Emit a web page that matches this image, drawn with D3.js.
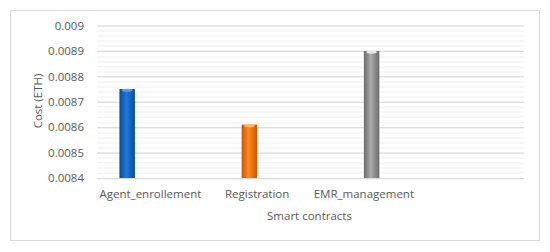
<!DOCTYPE html>
<html>
<head>
<meta charset="utf-8">
<script src="https://cdn.jsdelivr.net/npm/d3@7"></script>
<style>
  body { margin: 0; background: #fff; }
  svg { display: block; }
  svg text { font-family: "Open Sans", Lato, sans-serif; }
</style>
</head>
<body>
<svg width="550" height="252"></svg>
<script>
// Cost of each smart contract (one series per contract, Excel-style clustered layout)
const categories = ['Agent_enrollement', 'Registration', 'EMR_management', ''];
const seriesNames = ['Series1', 'Series2', 'Series3', 'Series4'];
const series1 = [0.00875, null, null, null];
const series2 = [null, 0.00861, null, null];
const series3 = [null, null, 0.0089, null];
const series4 = [null, null, null, null];
const yTicks = [0.0084, 0.0085, 0.0086, 0.0087, 0.0088, 0.0089, 0.009];

const allSeries = [series1, series2, series3, series4];

const svg = d3.select('svg');
const width = 550;
const height = 252;
const margin = { top: 25.5, right: 26, bottom: 74, left: 97 };
const innerWidth = width - margin.left - margin.right;
const innerHeight = height - margin.top - margin.bottom;
const textColor = '#595959';
const fontSize = '11.5px';

// outer frame
svg.append('rect')
    .attr('x', 10.5).attr('y', 10.5)
    .attr('width', 529).attr('height', 230)
    .attr('fill', '#fff')
    .attr('stroke', '#d9d9d9');

const g = svg.append('g')
    .attr('transform', `translate(${margin.left},${margin.top})`);

const x0 = d3.scaleBand()
    .domain(categories.map((d, i) => i))
    .range([0, innerWidth]);

const x1 = d3.scaleBand()
    .domain(seriesNames)
    .range([0, x0.bandwidth()])
    .paddingOuter(1.45);

const y = d3.scaleLinear()
    .domain([0.0084, 0.009])
    .range([innerHeight, 0]);

// minor gridlines
const minor = d3.range(0, 31).map(i => 0.0084 + i * 0.00002);
g.append('g').selectAll('line')
    .data(minor)
    .join('line')
    .attr('x1', 0).attr('x2', innerWidth)
    .attr('y1', d => Math.round(y(d)) + 0.5)
    .attr('y2', d => Math.round(y(d)) + 0.5)
    .attr('stroke', '#efefef');

// major gridlines + labels via axis
const yAxis = d3.axisLeft(y)
    .tickValues(yTicks)
    .tickSize(-innerWidth)
    .tickPadding(13)
    .tickFormat(d => String(+d.toFixed(4)));

g.append('g')
    .call(yAxis)
    .attr('font-family', null)
    .call(s => s.select('.domain').remove())
    .call(s => s.selectAll('.tick line').attr('stroke', '#d9d9d9'))
    .call(s => s.selectAll('.tick text')
        .attr('fill', textColor)
        .style('font-size', fontSize));

// gradients for the bars
const defs = svg.append('defs');
const palettes = [
    ['#0a4a9a', '#1f78dc', '#0a4a9a'],
    ['#cc5500', '#ff8a1e', '#cc5500'],
    ['#6b6b6b', '#ababab', '#6b6b6b'],
    ['#888', '#aaa', '#888']
];
palettes.forEach((p, i) => {
    const gr = defs.append('linearGradient')
        .attr('id', 'grad' + i)
        .attr('x1', 0).attr('x2', 1).attr('y1', 0).attr('y2', 0);
    gr.append('stop').attr('offset', '0%').attr('stop-color', p[0]);
    gr.append('stop').attr('offset', '45%').attr('stop-color', p[1]);
    gr.append('stop').attr('offset', '100%').attr('stop-color', p[2]);
});
const tops = ['#5aa0ee', '#ffb062', '#e8e8e8', '#ccc'];

// bars
const barData = [];
allSeries.forEach((s, si) => {
    s.forEach((v, ci) => {
        if (v != null) barData.push({ series: seriesNames[si], si, ci, value: v });
    });
});

const bars = g.append('g').selectAll('g')
    .data(barData)
    .join('g')
    .attr('transform', d => `translate(${x0(d.ci) + x1(d.series)},0)`);

bars.append('rect')
    .attr('y', d => y(d.value))
    .attr('width', x1.bandwidth())
    .attr('height', d => innerHeight - y(d.value))
    .attr('fill', d => `url(#grad${d.si})`);

bars.append('ellipse')
    .attr('cx', x1.bandwidth() / 2)
    .attr('cy', d => y(d.value) + 1.2)
    .attr('rx', x1.bandwidth() / 2 - 2.5)
    .attr('ry', 1.6)
    .attr('fill', d => tops[d.si]);

// category labels
g.append('g')
    .attr('transform', `translate(0,${innerHeight})`)
    .call(d3.axisBottom(x0).tickSize(0).tickPadding(12).tickFormat(i => categories[i]))
    .attr('font-family', null)
    .call(s => s.select('.domain').remove())
    .call(s => s.selectAll('.tick').filter(i => !categories[i]).remove())
    .call(s => s.selectAll('.tick text')
        .attr('fill', textColor)
        .style('font-size', fontSize));

// axis titles
svg.append('text')
    .attr('x', margin.left + innerWidth / 2 - 1)
    .attr('y', 220)
    .attr('text-anchor', 'middle')
    .attr('fill', textColor)
    .style('font-size', fontSize)
    .text('Smart contracts');

svg.append('text')
    .attr('transform', `translate(42,101) rotate(-90)`)
    .attr('text-anchor', 'middle')
    .attr('fill', textColor)
    .style('font-size', fontSize)
    .text('Cost (ETH)');
</script>
</body>
</html>
